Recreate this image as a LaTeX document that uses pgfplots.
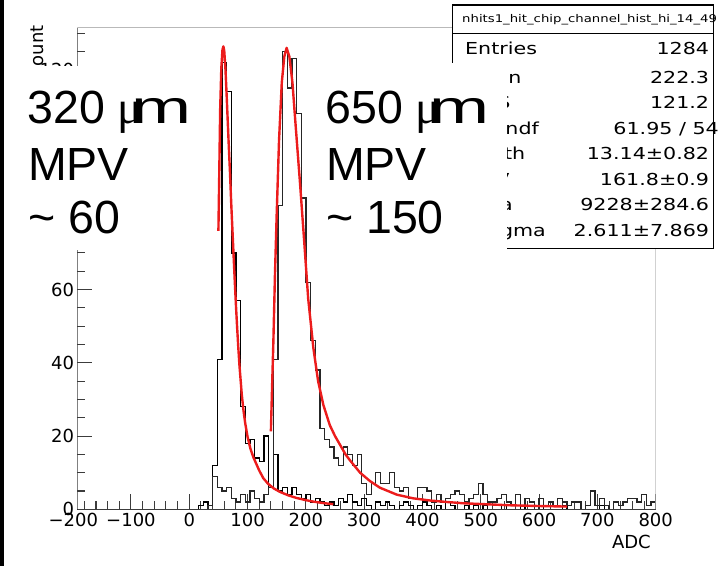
\documentclass[border=0pt]{standalone}
\usepackage{pgfplots}
\usepackage{pgfplotstable}
\usepackage{graphicx}
\pgfplotsset{compat=1.18}
\usepackage{fontspec}
\setmainfont{DejaVu Sans}
\newfontfamily\bigsans{Liberation Sans}
\newfontfamily\muserif{Liberation Serif}
\newfontfamily\statfont[FakeStretch=1.25]{DejaVu Sans}
\definecolor{rootred}{RGB}{236,28,28}
\definecolor{framegray}{RGB}{185,185,185}
\definecolor{axisgray}{RGB}{60,60,60}

\pgfplotstableread{
x y
-192 0
16 1
24 2
32 1
40 12
48 41
56 122
64 114
72 70
80 57
88 28
96 18
104 19
112 14
120 13
128 20
136 6
144 15
152 5
160 6
168 4
176 6
184 4
192 3
200 4
208 2
216 3
224 2
232 1
240 2
248 1
256 3
264 2
272 4
280 2
288 1
296 3
304 1
312 0
320 2
328 1
336 2
344 1
352 0
360 1
368 2
376 1
384 0
392 1
400 2
408 1
416 0
424 1
432 0
440 2
448 1
456 0
472 1
480 0
488 1
496 0
504 1
512 0
536 1
544 0
568 1
576 0
600 1
608 0
640 1
648 0
704 1
712 0
800 0
}\histA

\pgfplotstableread{
x y
-192 0
32 1
40 9
48 6
56 5
64 6
72 3
80 2
88 4
96 2
104 5
112 3
120 2
128 4
136 6
144 41
152 83
160 125
168 115
176 123
184 108
192 85
200 62
208 46
216 38
224 22
232 19
240 17
248 14
256 12
264 17
272 15
280 12
288 15
296 7
304 4
312 7
320 10
328 7
336 7
344 10
352 6
360 5
368 6
376 3
384 3
392 6
400 6
408 5
416 2
424 4
432 2
440 3
448 4
456 5
464 4
472 2
480 3
488 4
496 7
504 4
512 2
520 2
528 3
536 4
544 2
552 1
560 4
568 1
576 3
584 2
592 0
600 3
608 1
616 2
624 1
632 3
640 2
648 1
656 2
664 2
672 0
680 1
688 5
696 1
704 3
712 1
720 0
728 2
736 1
744 2
752 3
760 3
768 2
776 4
784 1
792 2
800 2
800 0
}\histB

\pgfplotstableread{
x y
50 76
51.5 92
53 109
55 120.5
57 125.5
58.5 126.4
60 125.2
62 120.5
64 113.5
66 106
68 98.5
70 91.5
72 83.5
74 76.5
76 69.5
78 62.5
80 56
82 50
84 44.5
86 39.5
88 35.5
90 31.5
93 27
96 23.5
100 19.8
105 16.5
110 14.2
115 12.4
120 10.6
127 8.5
135 7.0
145 5.7
155 4.8
170 3.8
184 3.1
200 2.5
213 2.1
230 1.7
247 1.4
}\fitA

\pgfplotstableread{
x y
140 21.3
142 33
144.3 46
147 64
150 80.7
154 100.8
158.7 116.5
163 123.6
167 126
171.7 123.6
177 116.5
182.6 104.5
190 89
197 73.5
204 57.5
212.9 44
221 35
230 28.5
241 23
250 20
259 17.5
268 15
276 13.3
293 10
310 7.7
327 5.9
356 4.0
384 3.0
413 2.4
442 2.0
470 1.65
499 1.45
550 1.1
600 0.9
648 0.75
}\fitB

\newcommand\tickfont{\fontsize{18}{20}\selectfont}
\newcommand\statsize{\statfont\fontsize{16.5}{19}\selectfont}
\newcommand\bigtext{\bigsans\fontsize{46.5}{52}\selectfont}

\begin{document}
\begin{tikzpicture}
\path[use as bounding box] (0pt,0pt) rectangle (725pt,-566pt);
\begin{axis}[
  at={(77.3pt,-509.3pt)}, anchor=south west,
  scale only axis, width=578.4pt, height=481.6pt,
  xmin=-192, xmax=800, ymin=0, ymax=131.5,
  axis line style={draw=none},
  no markers,
  tick align=inside, xtick pos=left, ytick pos=left,
  xtick={-100,0,100,200,300,400,500,600,700,800},
  xticklabels={−100,0,100,200,300,400,500,600,700,800},
  ytick={0,20,40,60,80,100,120},
  yticklabels={0,20,40,60,{},{},120},
  minor xtick={-180,-160,...,800},
  minor ytick={5,10,...,130},
  major tick length=15pt, minor tick length=8pt,
  tick style={axisgray, line width=1.1pt},
  tick label style={font=\tickfont},
  xticklabel style={inner sep=0pt, anchor=north, yshift=-4pt},
  yticklabel style={inner sep=0pt, anchor=east, xshift=-3pt},
]
\addplot[const plot, black, line width=1.3pt] table[x=x,y=y]{\histA};
\addplot[const plot, black!85, line width=1.3pt] table[x=x,y=y]{\histB};
\addplot[rootred, line width=2.4pt, line join=round] table[x=x,y=y]{\fitA};
\addplot[rootred, line width=2.4pt, line join=round] table[x=x,y=y]{\fitB};
\draw[framegray, line width=1.5pt] (rel axis cs:0,1) -- (rel axis cs:1,1) -- (rel axis cs:1,0);
\draw[axisgray, line width=1.6pt] (rel axis cs:0,1) -- (rel axis cs:0,0) -- (rel axis cs:1,0);
\end{axis}
\begin{scope}[x=1pt,y=-1pt]
  \fill[black] (0,0) rectangle (4.3,566);
  \node[rotate=90, anchor=base east, inner sep=0pt, font=\tickfont] at (43.3,25) {Count};
  \node[anchor=north, inner sep=0pt, font=\tickfont] at (73.3,513.3) {−200};
  \node[anchor=base east, inner sep=0pt, font=\tickfont] at (651,548.3) {ADC};
  % stats box
  \filldraw[fill=white, draw=black, line width=1.2pt] (452.7,5) rectangle (713.3,248.3);
  \draw[black, line width=1.2pt] (452.7,33.3) -- (713.3,33.3);
  \node[anchor=base west, inner sep=0pt, font=\statfont\fontsize{10.6}{12}\selectfont] at (462,22.7) {nhits1\_hit\_chip\_channel\_hist\_hi\_14\_49};
  \node[anchor=base west, inner sep=0pt, font=\statsize] at (465,54.3) {Entries};
  \node[anchor=base east, inner sep=0pt, font=\statsize] at (709.3,54.3) {1284};
  \node[anchor=base west, inner sep=0pt, font=\statsize] at (465,83.3) {Mean};
  \node[anchor=base east, inner sep=0pt, font=\statsize] at (709.3,83.3) {222.3};
  \node[anchor=base west, inner sep=0pt, font=\statsize] at (465,108.7) {RMS};
  \node[anchor=base east, inner sep=0pt, font=\statsize] at (709.3,108.7) {121.2};
  \node[anchor=base west, inner sep=0pt, font=\statsize] at (465,134.2) {χ² / ndf};
  \node[anchor=base east, inner sep=0pt, font=\statsize] at (719,134.2) {61.95 / 54};
  \node[anchor=base west, inner sep=0pt, font=\statsize] at (465,159.6) {Width};
  \node[anchor=base east, inner sep=0pt, font=\statsize] at (709.3,159.6) {13.14±0.82};
  \node[anchor=base west, inner sep=0pt, font=\statsize] at (465,185.1) {MPV};
  \node[anchor=base east, inner sep=0pt, font=\statsize] at (709.3,185.1) {161.8±0.9};
  \node[anchor=base west, inner sep=0pt, font=\statsize] at (465,210.6) {Area};
  \node[anchor=base east, inner sep=0pt, font=\statsize] at (709.3,210.6) {9228±284.6};
  \node[anchor=base west, inner sep=0pt, font=\statsize] at (465,236) {GSigma};
  \node[anchor=base east, inner sep=0pt, font=\statsize] at (709.3,236) {2.611±7.869};
  % white text boxes
  \fill[white] (6,65.5) rectangle (205,250);
  \fill[white] (322,63) rectangle (507,252);
  \node[anchor=base west, inner sep=0pt, font=\bigtext] at (27.5,123.3) {320\hspace{0.27em}{\muserif μ}\hspace{-0.24em}\scalebox{1.55}[1]{m}};
  \node[anchor=base west, inner sep=0pt, font=\bigtext] at (28,180) {MPV};
  \node[anchor=base west, inner sep=0pt, font=\bigtext] at (28,233.3) {\char`\~\ 60};
  \node[anchor=base west, inner sep=0pt, font=\bigtext] at (325.5,123.3) {650\hspace{0.27em}{\muserif μ}\hspace{-0.24em}\scalebox{1.55}[1]{m}};
  \node[anchor=base west, inner sep=0pt, font=\bigtext] at (326,180) {MPV};
  \node[anchor=base west, inner sep=0pt, font=\bigtext] at (326,233.3) {\char`\~\ 150};
\end{scope}
\end{tikzpicture}
\end{document}
